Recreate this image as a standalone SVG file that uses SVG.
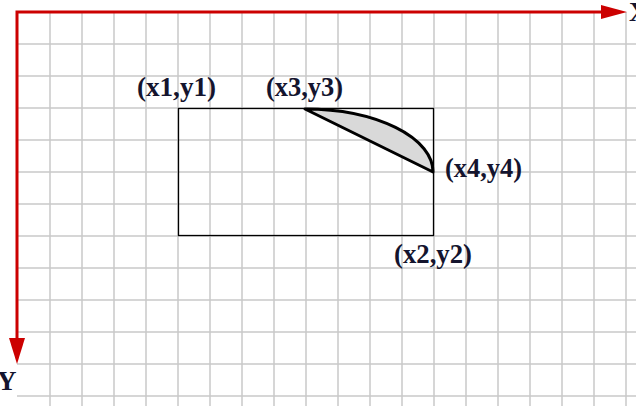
<svg xmlns="http://www.w3.org/2000/svg" width="636" height="406" viewBox="0 0 636 406">
<defs>
<style>
.grid line{stroke:#c8c8c8;stroke-width:1.5}
.axis{stroke:#cc0000;stroke-width:3;fill:none}
.head{fill:#cc0000}
.lbl{font-family:"Liberation Serif","Times New Roman",serif;font-weight:bold;font-size:27px;fill:#14142e}
</style>
</defs>
<rect width="636" height="406" fill="#ffffff"/>
<g id="grid" class="grid">
<line x1="50" y1="12" x2="50" y2="406"/><line x1="82" y1="12" x2="82" y2="406"/><line x1="114" y1="12" x2="114" y2="406"/><line x1="146" y1="12" x2="146" y2="406"/><line x1="178" y1="12" x2="178" y2="406"/><line x1="210" y1="12" x2="210" y2="406"/><line x1="242" y1="12" x2="242" y2="406"/><line x1="274" y1="12" x2="274" y2="406"/><line x1="306" y1="12" x2="306" y2="406"/><line x1="338" y1="12" x2="338" y2="406"/><line x1="370" y1="12" x2="370" y2="406"/><line x1="402" y1="12" x2="402" y2="406"/><line x1="434" y1="12" x2="434" y2="406"/><line x1="466" y1="12" x2="466" y2="406"/><line x1="498" y1="12" x2="498" y2="406"/><line x1="530" y1="12" x2="530" y2="406"/><line x1="562" y1="12" x2="562" y2="406"/><line x1="594" y1="12" x2="594" y2="406"/><line x1="626" y1="12" x2="626" y2="406"/>
<line x1="17" y1="44" x2="636" y2="44"/><line x1="17" y1="76" x2="636" y2="76"/><line x1="17" y1="108" x2="636" y2="108"/><line x1="17" y1="140" x2="636" y2="140"/><line x1="17" y1="172" x2="636" y2="172"/><line x1="17" y1="204" x2="636" y2="204"/><line x1="17" y1="236" x2="636" y2="236"/><line x1="17" y1="268" x2="636" y2="268"/><line x1="17" y1="300" x2="636" y2="300"/><line x1="17" y1="332" x2="636" y2="332"/><line x1="17" y1="364" x2="636" y2="364"/><line x1="17" y1="396" x2="636" y2="396"/>
</g>
<g id="axes">
<path class="axis" d="M602,12 H17 V338"/>
<polygon class="head" points="601,5 627,12 601,19"/>
<polygon class="head" points="9,338 17,364 25,338"/>
<text class="lbl" x="629" y="21" font-size="22">X</text>
<text class="lbl" x="-3" y="390" font-size="22">Y</text>
</g>
<g id="rect">
<rect x="178.5" y="108.5" width="255" height="127" fill="none" stroke="#000" stroke-width="1.3"/>
</g>
<g id="segment">
<path d="M305,109 A128,63 0 0 1 433,172 Z" fill="#d9d9d9" stroke="#000" stroke-width="3" stroke-linejoin="round"/>
</g>
<g id="labels">
<text class="lbl" x="137" y="96" textLength="79" lengthAdjust="spacingAndGlyphs">(x1,y1)</text>
<text class="lbl" x="266" y="96" textLength="77" lengthAdjust="spacingAndGlyphs">(x3,y3)</text>
<text class="lbl" x="445" y="177" textLength="77" lengthAdjust="spacingAndGlyphs">(x4,y4)</text>
<text class="lbl" x="394" y="263" textLength="78" lengthAdjust="spacingAndGlyphs">(x2,y2)</text>
</g>
</svg>
